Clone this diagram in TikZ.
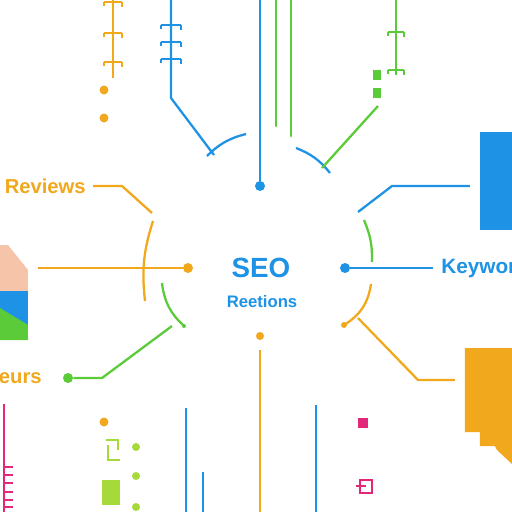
\documentclass[tikz,border=0pt]{standalone}
\usepackage{fontspec}
\setmainfont{Liberation Sans}
\definecolor{seoblue}{HTML}{1E93E6}
\definecolor{seoorange}{HTML}{F2A81C}
\definecolor{seogreen}{HTML}{5CCB3A}
\definecolor{seopink}{HTML}{E3287A}
\definecolor{seopeach}{HTML}{F6C5A9}
\definecolor{seolime}{HTML}{A6D93A}
\tikzset{
	link/.style={line width=1.3pt},
	tickmark/.style={line width=1.1pt},
	dot/.style={circle, fill, inner sep=0pt, minimum size=0.2cm},
	lbl/.style={font=\bfseries, inner sep=0pt}
}
\begin{document}
\begin{tikzpicture}[x=0.02cm, y=-0.02cm]
	\useasboundingbox (0,0) rectangle (512,512);
	\clip (0,0) rectangle (512,512);
	\fill [white] (0,0) rectangle (512,512);

	%blocks
	\fill [seopeach] (0,245) -- (8,245) -- (28,270) -- (28,291) -- (0,291) -- cycle;
	\fill [seoblue] (0,291) rectangle (28,340);
	\fill [seogreen] (0,308) -- (28,325) -- (28,340) -- (0,340) -- cycle;
	\fill [seoblue] (480,132) rectangle (512,230);
	\fill [seoorange] (465,348) -- (512,348) -- (512,464) -- (497,450) -- (495,446)
		-- (480,446) -- (480,432) -- (465,432) -- cycle;

	%nodes
	\node [lbl, seoblue, font=\bfseries\fontsize{15.8}{18}\selectfont] (seo) at (261,268) {SEO};
	\node [lbl, seoblue, font=\bfseries\fontsize{9.5}{11}\selectfont] (reet) at (262,302) {Reetions};
	\node [lbl, seoorange, anchor=east, font=\bfseries\fontsize{11.5}{13}\selectfont] (revtxt) at (86,186) {e Reviews};
	\node [lbl, seoblue, anchor=west, font=\bfseries\fontsize{11.8}{13}\selectfont] (keytxt) at (441,268) {Keyword};
	\node [lbl, seoorange, anchor=east, font=\bfseries\fontsize{11.5}{13}\selectfont] (eurtxt) at (42,378) {eurs};

	\node [dot, seoorange] (dleft) at (188,268) {};
	\node [dot, seoblue] (dright) at (345,268) {};
	\node [dot, seoblue] (dtop) at (260,186) {};
	\node [dot, seoorange, minimum size=0.16cm] (dbot) at (260,336) {};
	\node [dot, seogreen] (dgreen) at (68,378) {};

	\coordinate (revbend) at (122,186);
	\coordinate (revend) at (152,213);
	\coordinate (leftend) at (38,268);
	\coordinate (grnbend) at (102,378);
	\coordinate (grnend) at (172,326);
	\coordinate (topend) at (260,0);
	\coordinate (kwbend) at (392,186);
	\coordinate (kwstart) at (358,212);
	\coordinate (kwend) at (470,186);
	\coordinate (rightend) at (433,268);
	\coordinate (orgstart) at (358,318);
	\coordinate (orgbend) at (418,380);
	\coordinate (orgend) at (455,380);

	%paths
	\draw [link, seoorange] ([xshift=4pt]revtxt.east) -- (revbend) -- (revend);
	\draw [link, seoorange] (leftend) -- (dleft);
	\draw [link, seogreen] (grnend) -- (grnbend) -- (dgreen);
	\draw [link, seoblue] (topend) -- (dtop);
	\draw [link, seoblue] (kwstart) -- (kwbend) -- (kwend);
	\draw [link, seoblue] (dright) -- (rightend);
	\draw [link, seoorange] (orgstart) -- (orgbend) -- (orgend);
	\draw [link, seoorange] (260,350) -- (260,512);

	%arcs
	\draw [link, seoorange] (153,221) to [bend right=12] (145,301);
	\draw [link, seogreen] (162,283) to [bend right=20] (184,326);
	\node [dot, seogreen, minimum size=0.08cm] (garcend) at (184,326) {};
	\draw [link, seoblue] (207,156) to [bend left=15] (246,134);
	\draw [link, seoblue] (296,148) to [bend left=15] (330,173);
	\draw [link, seogreen] (364,220) to [bend left=12] (372,262);
	\draw [link, seoorange] (371,284) to [bend left=25] (344,325);
	\node [dot, seoorange, minimum size=0.12cm] (oarcend) at (344,325) {};

	%wires
	\draw [link, seoblue] (171,0) -- (171,98) -- (214,155);
	\draw [link, seogreen] (378,106) -- (322,168);
	\draw [link, seogreen, line cap=round] (276,0) -- (276,126);
	\draw [link, seogreen, line cap=round] (291,0) -- (291,136);
	\draw [link, seoorange] (113,0) -- (113,78);
	\draw [link, seogreen] (396,0) -- (396,75);
	\draw [link, seoblue] (186,408) -- (186,512);
	\draw [link, seoblue] (203,472) -- (203,512);
	\draw [link, seoblue] (316,405) -- (316,512);
	\draw [link, seopink] (4,404) -- (4,512);

	%ticks
	\foreach \x/\y in {113/2, 113/33, 113/62}
		\draw [tickmark, seoorange] (\x-9,\y) -- ++(18,0) (\x-9,\y) -- ++(0,4) (\x+9,\y) -- ++(0,5);
	\foreach \x/\y in {171/25, 171/42, 171/59}
		\draw [tickmark, seoblue] (\x-10,\y) -- ++(20,0) (\x-10,\y) -- ++(0,4) (\x+10,\y) -- ++(0,5);
	\foreach \x/\y in {396/32, 396/70}
		\draw [tickmark, seogreen] (\x-8,\y) -- ++(16,0) (\x-8,\y) -- ++(0,4) (\x+8,\y) -- ++(0,5);
	\foreach \y in {467, 475, 483, 492, 500, 507}
		\draw [tickmark, seopink] (4,\y) -- ++(9,0);

	%icons
	\foreach \p in {(104,90), (104,118), (104,422)}
		\fill [seoorange] \p circle (4.5);
	\foreach \p in {(377,75), (377,93)}
		\fill [seogreen] \p ++(-4,-5) rectangle ++(8,10);
	\foreach \p in {(136,447), (136,476), (136,507)}
		\fill [seolime] \p circle (4);
	\draw [tickmark, seolime] (106,440) -- (118,440) -- (118,450) (108,445) -- (108,460) -- (120,460);
	\fill [seolime] (102,480) rectangle (120,505);
	\fill [seopink] (358,418) rectangle (368,428);
	\draw [tickmark, seopink] (360,480) rectangle (372,493) (356,486) -- (366,486);
\end{tikzpicture}
\end{document}
